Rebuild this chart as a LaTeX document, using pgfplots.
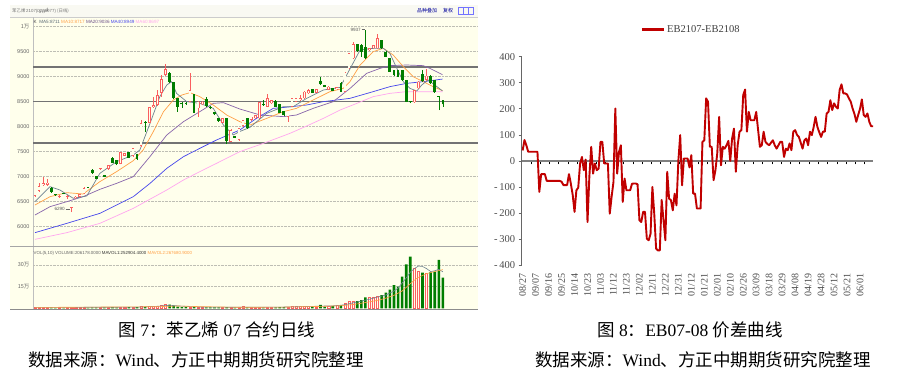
\documentclass[border=0pt]{standalone}
\usepackage{pgfplots}
\pgfplotsset{compat=1.18}
\usepackage{pgfplotstable}
\usepackage{fontspec}
\setmainfont{Liberation Serif}
\newfontfamily\cjk{Noto Sans CJK SC}
\newfontfamily\ui{Liberation Sans}

\definecolor{cream}{RGB}{255,255,236}
\definecolor{barbg}{RGB}{249,249,242}
\definecolor{candred}{RGB}{250,95,95}
\definecolor{candgreen}{RGB}{0,125,0}
\definecolor{maA}{RGB}{110,130,145}
\definecolor{maB}{RGB}{255,160,70}
\definecolor{maC}{RGB}{135,100,170}
\definecolor{maD}{RGB}{70,70,235}
\definecolor{maE}{RGB}{255,165,240}
\definecolor{exred}{RGB}{192,0,0}
\definecolor{gridc}{RGB}{190,190,180}

% candles: k open high low close volume(10k)
\pgfplotstableread{
k o h l c v
0 6610 6640 6600 6625 0.5
1 6717 6880 6700 6810 0.6
2 6830 6997 6820 6863 0.6
3 6830 6950 6820 6877 0.5
6 6590 6630 6580 6617 0.5
8 6600 6640 6560 6615 0.5
9 6370 6400 6290 6390 0.6
10 6570 6620 6560 6600 0.5
11 6597 6660 6590 6643 0.6
12 6663 6790 6650 6763 0.7
16 7150 7180 7140 7170 0.5
18 7150 7240 7140 7230 0.7
21 7250 7490 7245 7483 0.9
22 7417 7470 7410 7463 0.7
24 7410 7570 7400 7563 0.9
26 7610 8130 7600 8063 1.2
28 8077 8400 8070 8383 1.3
29 8383 8597 8380 8430 1.2
30 8430 8730 8420 8630 1.6
31 8677 9030 8600 8950 2.4
32 9030 9250 9020 9143 3.0
38 8497 9063 8490 8730 1.0
40 8363 8520 8200 8497 0.8
41 8443 8510 8430 8497 0.7
46 8077 8170 8070 8163 0.5
48 7697 7950 7690 7930 0.7
50 7730 7970 7720 7963 0.6
51 8010 8140 8000 8130 1.3
53 8130 8200 8120 8197 0.6
54 8163 8240 8160 8230 0.5
55 8163 8490 8150 8483 0.7
57 8397 8660 8390 8563 0.8
58 8463 8540 8455 8530 0.6
62 8197 8300 8100 8297 1.0
63 8397 8570 8390 8563 1.3
64 8497 8580 8490 8563 1.2
65 8530 8630 8520 8563 1.1
66 8563 8720 8555 8697 1.4
67 8663 8760 8650 8730 1.6
69 8677 8760 8670 8743 1.0
72 8730 8810 8725 8797 1.5
74 8745 8800 8740 8783 1.9
76 8697 9090 8690 9077 3.4
77 9163 9480 9150 9463 5.0
78 9363 9700 9350 9643 4.8
82 9530 9580 9520 9563 7.6
83 9563 9640 9550 9630 7.9
84 9563 9850 9555 9763 8.5
93 8483 8740 8475 8730 27.7
94 8763 8910 8755 8897 25.8
96 8930 9150 8920 9017 24.0
}\upC

\pgfplotstableread{
k o h l c v
4 6777 6790 6680 6697 0.6
5 6650 6660 6620 6635 0.5
7 6670 6680 6650 6655 0.4
13 6790 6800 6770 6775 0.5
14 7130 7150 7050 7077 0.7
15 7010 7020 6950 6957 0.6
17 7023 7030 6990 6997 0.6
19 7363 7390 7270 7277 0.8
20 7330 7340 7230 7243 0.7
23 7497 7500 7370 7377 0.8
25 7450 7460 7330 7350 0.8
27 8097 8110 7897 8077 1.0
33 9063 9100 8880 8897 2.5
34 8897 8900 8550 8563 1.8
35 8563 8570 8300 8397 1.2
36 8477 8490 8380 8443 0.9
37 8470 8500 8440 8455 0.8
39 8643 8660 8270 8277 0.9
42 8543 8600 8400 8410 0.7
43 8397 8410 8350 8363 0.6
44 8283 8290 8230 8243 0.6
45 8163 8170 8100 8110 0.6
47 8163 8170 7650 7710 0.8
49 7810 7820 7770 7777 0.6
52 8163 8170 7955 7963 0.8
56 8435 8530 8420 8425 0.6
59 8517 8530 8390 8397 0.7
60 8450 8460 8270 8277 0.8
61 8310 8320 8220 8230 0.9
68 8743 8750 8670 8677 1.2
70 8910 8990 8830 8843 2.3
71 8830 8840 8790 8797 1.1
73 8763 8770 8710 8717 1.5
75 8877 8900 8690 8697 2.2
79 9643 9660 9500 9510 5.0
80 9630 9650 9400 9500 5.6
81 9597 9937 9350 9363 7.6
85 9730 9740 9555 9563 9.2
86 9497 9510 9390 9397 10.8
87 9363 9370 9090 9097 13.0
88 9130 9140 9020 9030 16.0
89 9130 9140 8990 8997 15.0
90 9130 9140 8920 8930 22.0
91 8930 8940 8490 8497 30.5
92 8510 8520 8470 8483 35.8
95 9043 9140 8900 8910 24.7
97 9017 9030 8855 8863 25.0
98 8930 8940 8675 8683 25.4
99 8600 8610 8330 8590 33.5
100 8530 8540 8400 8443 21.2
}\downC

\pgfplotstableread{
k v
0 6497
3.7 6797
6.1 6730
9.4 6563
12.7 6610
15.9 7063
20.0 7297
24.1 7430
25.7 7530
28.2 8063
30.6 8597
32.3 8830
33.5 8897
34.7 8663
37.2 8497
40.4 8463
43.7 8363
46.2 8030
48.6 7830
50.2 7900
52.7 7983
56.8 8263
60.9 8397
63.3 8397
66.6 8563
70.7 8730
74.8 8783
77.2 9150
79.7 9530
82.9 9563
85.4 9563
87.0 9463
88.7 9163
90.3 8897
91.9 8763
93.6 8710
94.8 8830
96.4 8930
98.0 8830
99.9 8711
}\maFive

\pgfplotstableread{
k v
0 6430
3.7 6597
7.8 6677
11.8 6650
15.9 6897
20.0 7097
24.1 7317
26.5 7530
29.0 7897
31.5 8297
33.9 8530
36.0 8630
38.0 8677
40.4 8597
43.7 8430
47.0 8230
50.2 8097
52.7 8030
56.8 8163
60.9 8297
64.1 8363
68.2 8530
72.3 8697
75.6 8763
77.2 8897
79.7 9230
82.9 9497
85.4 9563
87.8 9430
90.3 9197
92.7 8997
95.2 8897
97.6 8797
99.9 8717
}\maTen

\pgfplotstableread{
k v
0 6230
3.7 6397
7.8 6497
11.8 6597
15.9 6743
20.0 6863
24.1 6997
28.2 7400
32.3 7830
36.4 8097
40.4 8297
43.7 8463
46.2 8477
50.2 8350
55.2 8230
60.9 8197
64.1 8230
68.2 8363
73.1 8497
77.2 8760
81.3 9063
84.6 9163
87.0 9217
91.1 9230
95.2 9217
96.8 9163
99.9 9036
}\maTwenty

\pgfplotstableread{
k v
0 5877
7.8 6063
15.9 6263
20.0 6430
24.1 6597
28.2 6863
32.3 7163
36.4 7397
40.4 7563
44.5 7730
50.2 7930
54.3 8163
58.4 8363
60.9 8380
66.6 8430
70.7 8497
77.2 8563
82.9 8697
87.0 8797
91.1 8863
95.2 8897
99.9 8949
}\maForty

\pgfplotstableread{
k v
0 5743
7.8 5877
15.9 6063
24.1 6363
32.3 6730
36.4 6930
40.4 7097
44.5 7263
50.2 7497
56.0 7663
62.5 7863
66.6 8010
70.7 8163
74.8 8330
78.9 8463
82.9 8597
87.0 8663
91.1 8697
96.0 8697
99.9 8697
}\maSixty

\pgfplotstableread{
k v
0 0.6
25 0.8
30 1.4
33 2.1
36 1.5
40 0.9
50 0.7
60 0.8
66 1.2
70 1.5
74 1.8
76 2.5
78 3.8
80 5.0
82 6.3
84 7.8
86 9.2
88 12.0
89 14.0
90 17.5
91 21.0
92 25.0
93 27.5
94 29.3
95 29.0
96 27.5
97 25.5
98 26.0
99 27.0
100 25.3
}\mavA

\pgfplotstableread{
k v
0 0.6
30 1.1
35 1.6
40 1.2
50 0.7
60 0.8
70 1.3
75 1.8
78 2.6
80 3.5
84 5.5
86 7.0
88 9.0
90 12.0
91 14.5
92 17.0
93 19.5
94 21.5
96 24.0
98 25.5
100 26.8
}\mavB

\pgfplotstableread{
i v
0 40
1 80
2 60
3 35
4 35
5 35
6 35
7 35
8 35
9 -119
10 -51
11 -51
12 -51
13 -77
14 -77
15 -77
16 -77
17 -77
18 -77
19 -77
20 -77
21 -80
22 -93
23 -93
24 -93
25 -51
26 -87
27 -130
28 -196
29 -113
30 -103
31 -10
32 15
33 -36
34 5
35 -235
36 -60
37 54
38 -49
39 -10
40 -36
41 -30
42 73
43 73
44 -10
45 -10
46 -10
47 -203
48 -138
49 -81
50 201
51 -49
52 35
53 60
54 -158
55 -68
56 -113
57 -113
58 -113
59 -88
60 -87
61 -87
62 -90
63 -228
64 -235
65 -196
66 -196
67 -299
68 -305
69 -280
70 -100
71 -203
72 -337
73 -344
74 -344
75 -150
76 -228
77 -305
78 -42
79 -145
80 -151
81 -190
82 -126
83 -171
84 0
85 99
86 -94
87 9
88 9
89 9
90 -25
91 22
92 -126
93 -126
94 -183
95 -183
96 -183
97 73
98 79
99 240
100 227
101 54
102 54
103 -74
104 -36
105 30
106 169
107 -17
108 54
109 47
110 60
111 77
112 0
113 86
114 124
115 -42
116 60
117 112
118 118
119 253
120 274
121 112
122 188
123 156
124 156
125 156
126 188
127 120
128 54
129 60
130 112
131 73
132 65
133 60
134 70
135 79
136 60
137 47
138 60
139 73
140 73
141 15
142 47
143 41
144 67
145 41
146 112
147 118
148 100
149 92
150 70
151 47
152 79
153 86
154 60
155 112
156 99
157 130
158 169
159 131
160 110
161 92
162 112
163 112
164 182
165 188
166 233
167 195
168 221
169 208
170 201
171 272
172 294
173 259
174 259
175 255
176 240
177 227
178 201
179 180
180 150
181 176
182 200
183 236
184 176
185 169
186 182
187 150
188 133
189 133
}\spread

\pgfplotsset{
  leftax/.style={scale only axis, width=445pt, xmin=-0.49, xmax=108.6,
    axis line style={draw=none}, xtick=\empty, major tick length=0pt,
    ymajorgrids, grid style={densely dotted, gridc, line width=0.5pt},
    yticklabel style={font=\ui\fontsize{5.5}{6}\selectfont, text=black!60}},
  wick/.style={draw=none, mark=none, forget plot, error bars/.cd, y dir=plus, y explicit, error mark=none,
    error bar style={draw=#1, line width=0.6pt}},
  body/.style 2 args={draw=none, mark=none, forget plot, error bars/.cd, y dir=plus, y explicit, error mark=none,
    error bar style={draw=#2, line width=#1}},
}

\begin{document}
\begin{tikzpicture}
\path[use as bounding box] (0pt,0pt) rectangle (911pt,-383pt);
\fill[white] (0pt,0pt) rectangle (911pt,-383pt);

% ---------- left panel frame ----------
\fill[cream] (10pt,-5pt) rectangle (478pt,-310pt);
\fill[barbg] (10pt,-5pt) rectangle (478pt,-17pt);
\draw[black!20, line width=0.5pt] (10pt,-17pt) -- (478pt,-17pt);
\draw[black!25, line width=0.5pt] (33pt,-17pt) -- (33pt,-310pt);
\draw[black!35, line width=1pt] (10pt,-246.5pt) -- (478pt,-246.5pt);
\draw[black!45, line width=0.8pt] (10pt,-309.8pt) -- (478pt,-309.8pt);
\node[anchor=west, inner sep=0pt, font=\cjk\fontsize{4.4}{5}\selectfont, text=black!55] at (12pt,-11pt) {苯乙烯};
\node[anchor=west, inner sep=0pt, font=\ui\fontsize{4.4}{5}\selectfont, text=black!55] at (26pt,-11pt) {2107(0236077)};
\node[anchor=west, inner sep=0pt, font=\cjk\fontsize{4.4}{5}\selectfont, text=black!55] at (57pt,-11pt) {(日线)};
\node[anchor=west, inner sep=0pt, font=\cjk\fontsize{5}{6}\selectfont, text=blue!60!black] at (417pt,-11pt) {品种叠加};
\node[anchor=west, inner sep=0pt, font=\cjk\fontsize{5}{6}\selectfont, text=blue!60!black] at (443pt,-11pt) {复权};
\draw[blue!55, line width=0.5pt] (458pt,-7.5pt) rectangle (473pt,-14.5pt);
\draw[blue!55, line width=0.5pt] (463pt,-7.5pt) -- (463pt,-14.5pt) (468pt,-7.5pt) -- (468pt,-14.5pt);
\node[anchor=west, inner sep=0pt, font=\ui\fontsize{4.6}{5}\selectfont, text=black!70] at (33.5pt,-21.5pt)
  {K\ \ \textcolor{maA!80!black}{MA5:8711}\ \textcolor{maB}{MA10:8717}\ \textcolor{maC!80!black}{MA20:9036}\ \textcolor{maD}{MA40:8949}\ \textcolor{maE}{MA60:8697}};
\node[anchor=west, inner sep=0pt, font=\ui\fontsize{4.4}{5}\selectfont, text=black!60] at (33.5pt,-253.5pt)
  {VOL(5,10)\ VOLUME:206178.0000\ \textcolor{black!80}{MAVOL1:252904.4000}\ \textcolor{maB}{MAVOL2:267680.9000}};

% ---------- price axis ----------
\begin{axis}[leftax, at={(33pt,-246pt)}, anchor=south west, height=226pt,
  ymin=5610, ymax=10130, ytick={6000,6500,7000,7500,8000,8500,9000,9500,10000},
  yticklabels={6000,6500,7000,7500,8000,8500,9000,9500,{\cjk 1万}}]
\addplot[black!55, line width=1.1pt, forget plot] coordinates {(-0.49,9190) (108.6,9190)};
\addplot[black!55, line width=1.1pt, forget plot] coordinates {(-0.49,8500) (108.6,8500)};
\addplot[black!55, line width=1.1pt, forget plot] coordinates {(-0.49,7670) (108.6,7670)};
\addplot[maE, line width=0.7pt] table[x=k, y=v] {\maSixty};
\addplot[maD, line width=0.7pt] table[x=k, y=v] {\maForty};
\addplot[maC, line width=0.7pt] table[x=k, y=v] {\maTwenty};
\addplot[maB, line width=0.7pt] table[x=k, y=v] {\maTen};
\addplot[maA, line width=0.7pt] table[x=k, y=v] {\maFive};
% wicks
\addplot[wick=candred] table[x=k, y=l, y error plus expr={\thisrow{h}-\thisrow{l}}] {\upC};
\addplot[wick=candgreen] table[x=k, y=l, y error plus expr={\thisrow{h}-\thisrow{l}}] {\downC};
% bodies
\addplot[body={2.8pt}{candred}] table[x=k, y expr={min(\thisrow{o},\thisrow{c})}, y error plus expr={max(abs(\thisrow{c}-\thisrow{o}),16)}] {\upC};
\addplot[body={1.4pt}{cream}] table[x=k, y expr={min(\thisrow{o},\thisrow{c})+14}, y error plus expr={max(abs(\thisrow{c}-\thisrow{o})-28,0)}] {\upC};
\addplot[body={2.8pt}{candgreen}] table[x=k, y expr={min(\thisrow{o},\thisrow{c})}, y error plus expr={max(abs(\thisrow{c}-\thisrow{o}),16)}] {\downC};
\end{axis}
\node[anchor=east, inner sep=0pt, font=\ui\fontsize{4.6}{5}\selectfont, text=black!65] at (65pt,-209pt) {6290};
\draw[black!60, line width=0.4pt] (65.5pt,-209pt) -- (70pt,-209pt);
\node[anchor=east, inner sep=0pt, font=\ui\fontsize{4.6}{5}\selectfont, text=black!65] at (361pt,-29.6pt) {9937};
\draw[black!60, line width=0.4pt] (361.5pt,-29.6pt) -- (365pt,-29.6pt);

% ---------- volume axis ----------
\begin{axis}[leftax, at={(33pt,-308.3pt)}, anchor=south west, height=61.3pt,
  ymin=0, ymax=42.5, ytick={15,30}, yticklabels={{\cjk 15万},{\cjk 30万}}]
\addplot[ybar, bar width=2.6pt, fill=candgreen, draw=none, forget plot] table[x=k, y=v] {\downC};
\addplot[ybar, bar width=2.1pt, fill=cream, draw=candred, line width=0.5pt, forget plot] table[x=k, y=v] {\upC};
\addplot[maA, line width=0.6pt] table[x=k, y=v] {\mavA};
\addplot[maB, line width=0.6pt] table[x=k, y=v] {\mavB};
\end{axis}

% ---------- right chart: zero line with ticks ----------
\begin{axis}[at={(521.7pt,-265pt)}, anchor=south west, scale only axis, width=351.3pt, height=208.3pt,
  xmin=-0.5, xmax=189, ymin=-400, ymax=400,
  axis x line=middle, axis y line=none,
  x axis line style={-, black!50, line width=1.8pt},
  xtick={4.5,9.5,...,184.5}, xticklabels={},
  xtick style={black, line width=0.6pt, yshift=-1.8pt}, major tick length=3.4pt, tick align=center,
  ytick=\empty]
\addplot[draw=none, forget plot] coordinates {(0,0)};
\end{axis}

% ---------- right chart: data ----------
\begin{axis}[at={(521.7pt,-265pt)}, anchor=south west, scale only axis, width=351.3pt, height=208.3pt,
  xmin=-0.5, xmax=189, ymin=-400, ymax=400,
  axis x line=bottom, axis y line=left,
  x axis line style={draw=none}, y axis line style={-, black!60, line width=0.8pt},
  xtick={0,7,...,182},
  xticklabels={08/27,09/07,09/16,09/25,10/14,10/23,11/03,11/12,11/23,12/02,12/11,12/22,12/31,01/12,01/21,02/01,02/10,02/26,03/09,03/18,03/29,04/08,04/19,04/28,05/12,05/21,06/01},
  x tick style={draw=none},
  ytick={-400,-300,...,400},
  yticklabels={-\,400,-\,300,-\,200,-\,100,0,100,200,300,400},
  y tick style={black!60, line width=0.6pt},
  tick align=outside, major tick length=3pt,
  xticklabel style={rotate=90, anchor=east, font=\fontsize{10}{12}\selectfont, text=black!70},
  xticklabel shift=2pt,
  yticklabel style={font=\fontsize{10.5}{12}\selectfont, text=black!70},
  legend style={at={(0.338,1.13)}, anchor=west, draw=none, fill=none, inner sep=0pt,
    font=\fontsize{10.5}{12}\selectfont, text=black!75},
  legend image code/.code={\draw[#1, line width=2.6pt] (0pt,0pt) -- (22pt,0pt);},
  legend cell align=left]
\addplot[exred, line width=1.9pt, line join=round] table[x=i, y=v] {\spread};
\addlegendentry{EB2107-EB2108}
\end{axis}

% ---------- captions ----------
\node[anchor=base, inner sep=0pt, font=\fontsize{17.5}{20}\selectfont] at (217pt,-336pt)
  {{\cjk 图} 7{\cjk ：苯乙烯} 07 {\cjk 合约日线}};
\node[anchor=base, inner sep=0pt, font=\fontsize{17.5}{20}\selectfont] at (196pt,-366pt)
  {{\cjk 数据来源：}Wind{\cjk 、方正中期期货研究院整理}};
\node[anchor=base, inner sep=0pt, font=\fontsize{17.5}{20}\selectfont] at (690pt,-336pt)
  {{\cjk 图} 8{\cjk ：}EB07-08 {\cjk 价差曲线}};
\node[anchor=base, inner sep=0pt, font=\fontsize{17.5}{20}\selectfont] at (703pt,-366pt)
  {{\cjk 数据来源：}Wind{\cjk 、方正中期期货研究院整理}};
\end{tikzpicture}
\end{document}
